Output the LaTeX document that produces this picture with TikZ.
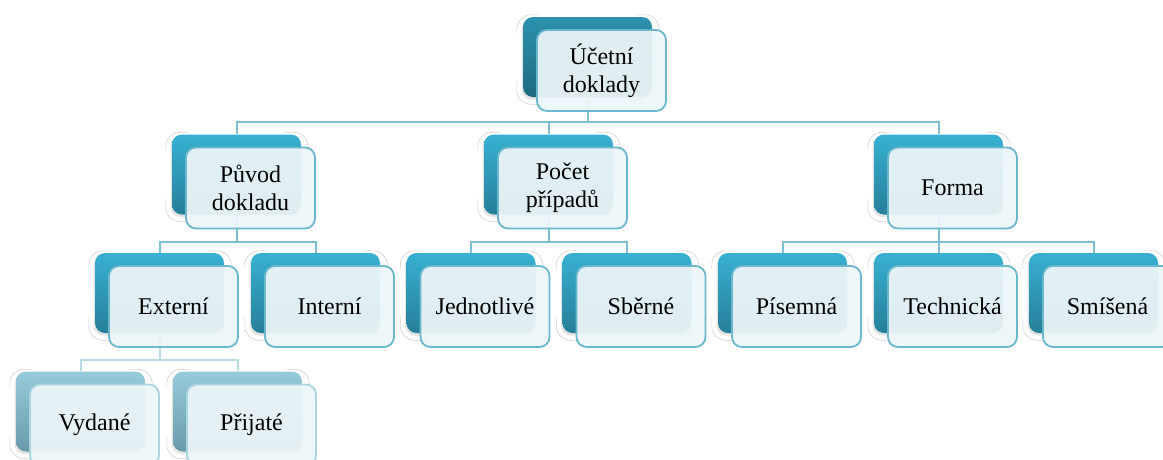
\documentclass[tikz,border=0pt]{standalone}
\usepackage{fontspec}
\setmainfont{Liberation Serif}
\usetikzlibrary{shadows}
\pgfdeclarelayer{background}
\pgfsetlayers{background,main}

% faint reflection round the corners of a back box
\newcommand{\glowcorners}[1]{%
  \draw[glowline] ([shift={(-6,16)}]#1.north west) -- ([shift={(-6,-2)}]#1.north west) -- ([shift={(16,-2)}]#1.north west);%
  \draw[glowline] ([shift={(-16,-2)}]#1.north east) -- ([shift={(7,-2)}]#1.north east) -- ([shift={(7,16)}]#1.north east);%
  \draw[glowline] ([shift={(-6,-16)}]#1.south west) -- ([shift={(-6,7)}]#1.south west) -- ([shift={(16,7)}]#1.south west);%
}

\begin{document}
\begin{tikzpicture}[x=1pt,y=-1pt,
    backbox/.style={rounded corners=10pt, minimum width=129pt, minimum height=80pt, inner sep=0pt,
      drop shadow={shadow xshift=-1.5pt, shadow yshift=-2.5pt, opacity=0.22}},
    rootback/.style={backbox, top color=r44g146b173, bottom color=r30g106b128},
    midback/.style={backbox, top color=r56g176b210, bottom color=r38g127b152},
    lowback/.style={backbox, top color=r150g203b220, bottom color=r104g154b170},
    frontbox/.style={rounded corners=10pt, minimum width=129pt, minimum height=81pt, inner sep=2pt,
      align=center, draw=r107g183b205, line width=1.8pt, fill=r236g245b248,
      fill opacity=0.94, text opacity=1, font=\fontsize{24}{28}\selectfont},
    lowfront/.style={frontbox, draw=r170g212b224},
    conn/.style={draw=r126g192b211, line width=2pt},
    lowconn/.style={draw=r184g220b230, line width=2pt},
    glowline/.style={draw=black!18, line width=0.6pt, rounded corners=14pt}]

    % Changing colors
    \definecolor{r44g146b173}{RGB}{44,146,173}%
    \definecolor{r30g106b128}{RGB}{30,106,128}%
    \definecolor{r56g176b210}{RGB}{56,176,210}%
    \definecolor{r38g127b152}{RGB}{38,127,152}%
    \definecolor{r150g203b220}{RGB}{150,203,220}%
    \definecolor{r104g154b170}{RGB}{104,154,170}%
    \definecolor{r107g183b205}{RGB}{107,183,205}%
    \definecolor{r236g245b248}{RGB}{236,245,248}%
    \definecolor{r170g212b224}{RGB}{170,212,224}%
    \definecolor{r126g192b211}{RGB}{126,192,211}%
    \definecolor{r184g220b230}{RGB}{184,220,230}%

    \useasboundingbox (0,0) rectangle (1163,459);

    % Root
    \node[rootback] (ucetB) at (587.5,57) {};
    \node[frontbox] (ucet) at (601.5,70.5) {Účetní\\doklady};

    % Level one
    \node[midback] (puvodB) at (236.5,174.5) {};
    \node[frontbox] (puvod) at (250.5,188) {Původ\\dokladu};
    \node[midback] (pocetB) at (548.5,174.5) {};
    \node[frontbox] (pocet) at (562.5,188) {Počet\\případů};
    \node[midback] (formaB) at (938.5,174.5) {};
    \node[frontbox] (forma) at (952.5,188) {Forma};

    % Level two
    \node[midback] (externiB) at (159.5,293) {};
    \node[frontbox] (externi) at (173.5,306.5) {Externí};
    \node[midback] (interniB) at (315.5,293) {};
    \node[frontbox] (interni) at (329.5,306.5) {Interní};
    \node[midback] (jednotliveB) at (471,293) {};
    \node[frontbox] (jednotlive) at (485,306.5) {Jednotlivé};
    \node[midback] (sberneB) at (627,293) {};
    \node[frontbox] (sberne) at (641,306.5) {Sběrné};
    \node[midback] (pisemnaB) at (782.5,293) {};
    \node[frontbox] (pisemna) at (796.5,306.5) {Písemná};
    \node[midback] (technickaB) at (938.5,293) {};
    \node[frontbox] (technicka) at (952.5,306.5) {Technická};
    \node[midback] (smisenaB) at (1093.5,293) {};
    \node[frontbox] (smisena) at (1107.5,306.5) {Smíšená};

    % Level three
    \node[lowback] (vydaneB) at (80.5,411.5) {};
    \node[lowfront] (vydane) at (94.5,425) {Vydané};
    \node[lowback] (prijateB) at (237.5,411.5) {};
    \node[lowfront] (prijate) at (251.5,425) {Přijaté};

    \begin{pgfonlayer}{background}
      % Drawing connectors
      \foreach \kid in {puvodB,pocetB,formaB}
        \draw[conn] (ucetB) -- ++(0,65) -| (\kid);
      \foreach \kid in {externiB,interniB}
        \draw[conn] (puvodB) -- ++(0,67) -| (\kid);
      \foreach \kid in {jednotliveB,sberneB}
        \draw[conn] (pocetB) -- ++(0,67) -| (\kid);
      \foreach \kid in {pisemnaB,technickaB,smisenaB}
        \draw[conn] (formaB) -- ++(0,67) -| (\kid);
      \foreach \kid in {vydaneB,prijateB}
        \draw[lowconn] (externiB) -- ++(0,67) -| (\kid);

      % Marking reflections
      \foreach \bx in {ucetB,puvodB,pocetB,formaB,externiB,interniB,jednotliveB,sberneB,
                       pisemnaB,technickaB,smisenaB,vydaneB,prijateB}
        {\glowcorners{\bx}}
    \end{pgfonlayer}
\end{tikzpicture}
\end{document}
